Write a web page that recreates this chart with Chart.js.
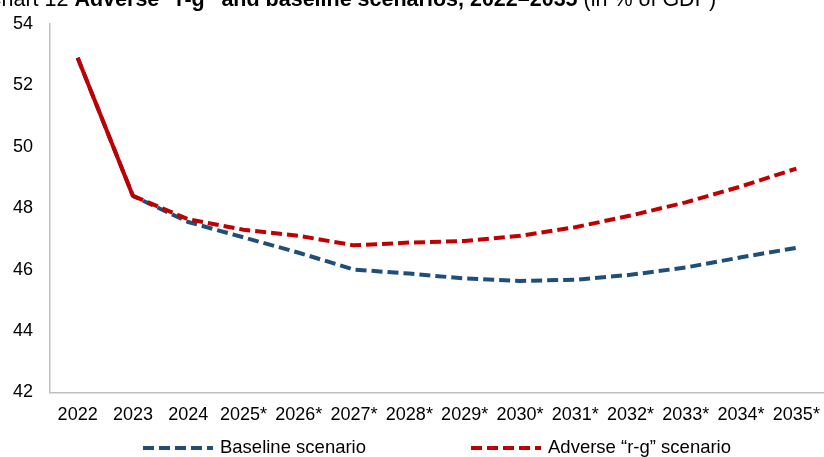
<!DOCTYPE html>
<html>
<head>
<meta charset="utf-8">
<script src="https://cdn.jsdelivr.net/npm/chart.js@4/dist/chart.umd.min.js"></script>
<style>
  html, body { margin: 0; padding: 0; background: #fff; }
  #wrap { width: 824px; height: 457px; position: relative; }
</style>
</head>
<body>
<div id="wrap"><canvas id="debt-chart"></canvas></div>
<script>
const years = ['2022', '2023', '2024', '2025*', '2026*', '2027*', '2028*', '2029*', '2030*', '2031*', '2032*', '2033*', '2034*', '2035*']
const baseline = [52.9, 48.4, 47.55, 47.05, 46.55, 46.0, 45.87, 45.71, 45.63, 45.67, 45.83, 46.07, 46.4, 46.71]
const adverse = [52.9, 48.4, 47.64, 47.3, 47.1, 46.79, 46.88, 46.93, 47.1, 47.38, 47.76, 48.19, 48.71, 49.29]
const seriesNames = ['Baseline scenario', 'Adverse “r-g” scenario']
const yTicks = { min: 42, max: 54, step: 2 }

const FONT = '"Liberation Sans", Arial, Helvetica, sans-serif'
const BLUE = '#1f4e79'
const RED = '#c00000'
const DASH = [11, 5]

// title sits partly above the canvas edge, so draw it by hand
const titlePlugin = {
    id: 'cutTitle',
    afterDraw(chart) {
        const ctx = chart.ctx
        const parts = [
            { text: 'Chart 12 ', bold: false },
            { text: 'Adverse “r-g” and baseline scenarios, 2022–2035', bold: true },
            { text: ' (in % of GDP)', bold: false },
        ]
        ctx.save()
        ctx.fillStyle = '#000'
        ctx.textBaseline = 'alphabetic'
        let x = -14
        parts.forEach(p => {
            ctx.font = (p.bold ? 'bold ' : '') + '21.5px ' + FONT
            ctx.fillText(p.text, x, 6)
            x += ctx.measureText(p.text).width
        })
        ctx.restore()
    }
}

// legend: dashed sample line + label, centred under the plot area
const dashLegend = {
    id: 'dashLegend',
    afterDraw(chart) {
        const ctx = chart.ctx
        const area = chart.chartArea
        const lineLen = 70
        const textGap = 7
        const itemGap = 105
        const y = 448
        ctx.save()
        ctx.font = '18.5px ' + FONT
        const items = chart.data.datasets.map(ds => ({
            ds,
            w: lineLen + textGap + ctx.measureText(ds.label).width
        }))
        const total = items.reduce((s, it) => s + it.w, 0) + itemGap * (items.length - 1)
        let x = (area.left + area.right) / 2 - total / 2
        items.forEach(it => {
            ctx.beginPath()
            ctx.setLineDash(it.ds.borderDash)
            ctx.lineWidth = it.ds.borderWidth
            ctx.strokeStyle = it.ds.borderColor
            ctx.moveTo(x, y)
            ctx.lineTo(x + lineLen, y)
            ctx.stroke()
            ctx.setLineDash([])
            ctx.fillStyle = '#000'
            ctx.textBaseline = 'middle'
            ctx.fillText(it.ds.label, x + lineLen + textGap, y)
            x += it.w + itemGap
        })
        ctx.restore()
    }
}

new Chart(document.getElementById('debt-chart'), {
    type: 'line',
    data: {
        labels: years,
        datasets: [
            {
                label: seriesNames[0],
                data: baseline,
                borderColor: BLUE,
                borderWidth: 4,
                borderDash: DASH,
                pointRadius: 0,
                tension: 0,
                order: 2,
            },
            {
                label: seriesNames[1],
                data: adverse,
                borderColor: RED,
                borderWidth: 4,
                borderDash: DASH,
                pointRadius: 0,
                tension: 0,
                order: 1,
                segment: {
                    // outturn years are solid, projections dashed
                    borderDash: ctx => ctx.p0DataIndex < 1 ? [] : DASH,
                },
            }
        ]
    },
    options: {
        responsive: true,
        maintainAspectRatio: false,
        animation: false,
        layout: {
            padding: { left: 0, right: 0, top: 24, bottom: 19 }
        },
        plugins: {
            legend: { display: false },
            tooltip: { enabled: false },
        },
        scales: {
            x: {
                offset: true,
                grid: { display: false, drawTicks: false },
                border: { display: true, color: '#bfbfbf', width: 1.5 },
                ticks: {
                    color: '#000',
                    font: { family: FONT, size: 18 },
                    maxRotation: 0,
                    autoSkip: false,
                    padding: 12,
                },
                afterFit(scale) {
                    // let the plot run to the right edge, last label may clip
                    scale.paddingLeft = 0
                    scale.paddingRight = 0
                }
            },
            y: {
                min: yTicks.min,
                max: yTicks.max,
                grid: { display: false, drawTicks: false },
                border: { display: true, color: '#bfbfbf', width: 1.5 },
                ticks: {
                    stepSize: yTicks.step,
                    color: '#000',
                    font: { family: FONT, size: 18 },
                    padding: 17,
                },
                afterFit(scale) {
                    scale.width = 50
                    scale.paddingTop = 0
                    scale.paddingBottom = 0
                }
            }
        }
    },
    plugins: [titlePlugin, dashLegend]
})
</script>
</body>
</html>
